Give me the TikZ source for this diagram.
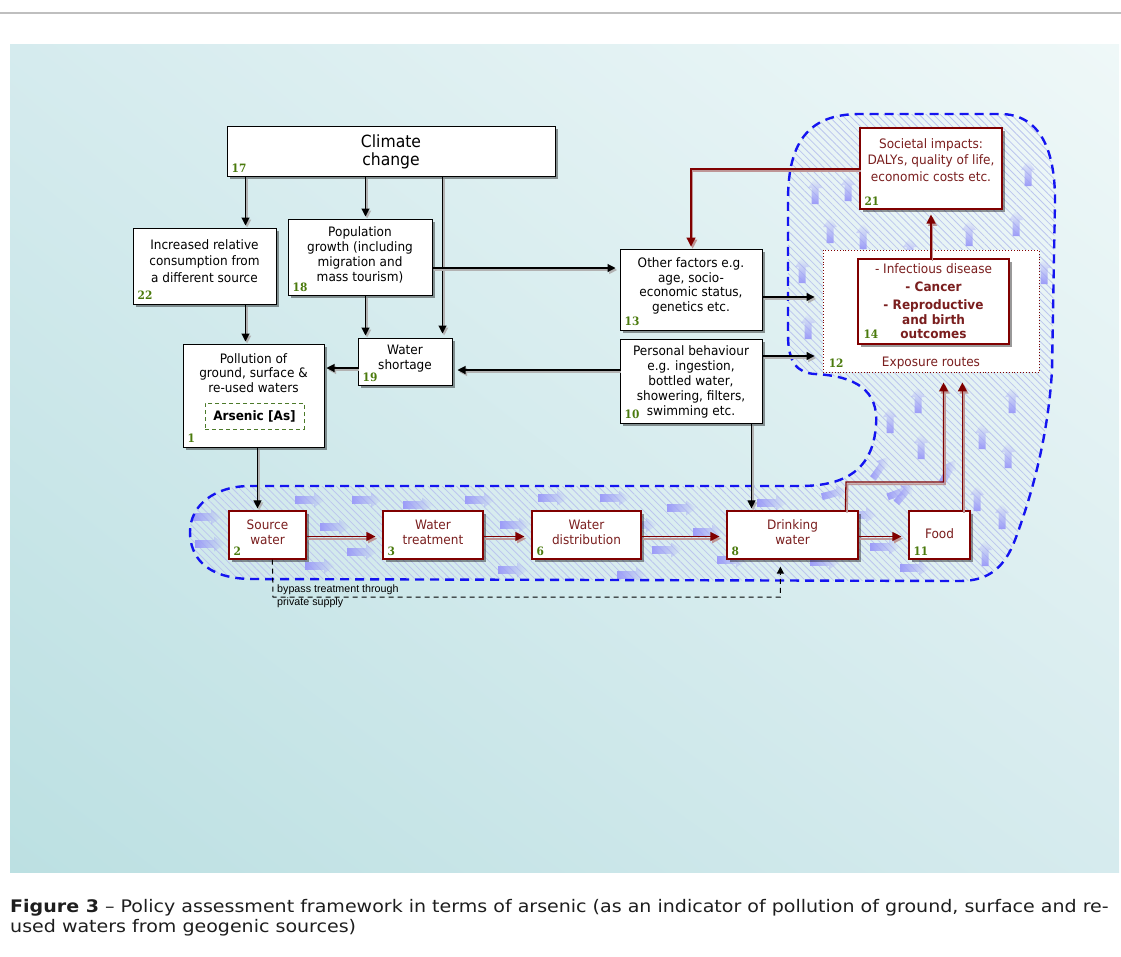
\documentclass[tikz,border=0pt]{standalone}
\usepackage{fontspec}
\setmainfont{DejaVu Sans}[FakeStretch=0.93]
\newfontfamily\numfont{DejaVu Serif}[FakeStretch=0.92]
\newfontfamily\capfont{DejaVu Sans}[FakeStretch=1.1]
\newfontfamily\smallfont{Liberation Sans}
\usetikzlibrary{arrows.meta,shadows,fadings,shadings,patterns.meta,calc}
\definecolor{darkred}{HTML}{800000}
\definecolor{redtext}{HTML}{7A1E1E}
\definecolor{redshadow}{HTML}{BE9696}
\definecolor{numgreen}{HTML}{4A7A0C}
\definecolor{asgreen}{HTML}{4C7A2A}
\definecolor{zoneblue}{HTML}{1414F0}
\definecolor{flowlav}{HTML}{9C9CF8}
\definecolor{hatchcol}{HTML}{BCC6EE}
\definecolor{bgTL}{HTML}{D5EBEE}
\definecolor{bgTR}{HTML}{EFF8F8}
\definecolor{bgBL}{HTML}{BCE0E2}
\definecolor{bgBR}{HTML}{D6EBEE}
\definecolor{captext}{HTML}{1E1E1E}

% outline of the exposure zone (pipeline band plus the upper-right lobe)
\newcommand\zonepath{(250,486) -- (800,486)
  .. controls (845,486) and (873,470) .. (876,425)
  .. controls (879,390) and (855,376) .. (815,374)
  .. controls (797,373) and (788,362) .. (788,335)
  -- (788,200) .. controls (788,140) and (810,114) .. (860,114)
  -- (1000,114) .. controls (1040,114) and (1055,150) .. (1055,200)
  -- (1052,370) .. controls (1048,440) and (1030,500) .. (1015,540)
  .. controls (1005,566) and (990,581) .. (960,581)
  -- (250,579) .. controls (205,578) and (190,556) .. (190,532)
  .. controls (190,505) and (215,486) .. (250,486) -- cycle}

% soft flow arrows inside the zone
\newcommand\flowright[2]{\fill[flowlav, path fading=east]
  (#1-30,#2-3.8) -- (#1-11,#2-3.8) -- (#1-11,#2-7.5) -- (#1,#2) -- (#1-11,#2+7.5)
  -- (#1-11,#2+3.8) -- (#1-30,#2+3.8) -- cycle;}
\newcommand\flowup[2]{\fill[flowlav, path fading=north]
  (#1-3.5,#2+26) -- (#1-3.5,#2+10) -- (#1-7,#2+10) -- (#1,#2) -- (#1+7,#2+10)
  -- (#1+3.5,#2+10) -- (#1+3.5,#2+26) -- cycle;}
\newcommand\flowdiag[3]{\begin{scope}[shift={(#1,#2)}, rotate=#3]
  \fill[flowlav, path fading=east]
  (-26,-3.5) -- (-10,-3.5) -- (-10,-7) -- (0,0) -- (-10,7) -- (-10,3.5) -- (-26,3.5) -- cycle;
  \end{scope}}

\begin{document}
\begin{tikzpicture}[x=1pt,y=-1pt,
  box/.style={draw=black, line width=1pt, fill=white, inner sep=0pt,
    drop shadow={shadow xshift=3pt, shadow yshift=-3pt, fill=black, opacity=0.4}},
  rbox/.style={box, draw=darkred, line width=1.2pt},
  txt/.style={align=center, inner sep=0pt, font=\fontsize{13}{14.8}\selectfont},
  rtxt/.style={txt, text=redtext},
  num/.style={anchor=base west, inner sep=0pt, text=numgreen,
    font=\numfont\bfseries\fontsize{11.5}{11.5}\selectfont},
  blink/.style={draw=black, line width=1.1pt, shorten >=2pt,
    -{Triangle[length=8pt,width=8pt]},
    preaction={draw=black!30, line width=1.4pt, -{Triangle[length=8pt,width=8pt]},
      transform canvas={shift={(1.6pt,-2pt)}}}},
  rlink/.style={draw=darkred, line width=1.3pt,
    -{Triangle[length=9pt,width=9pt]},
    preaction={draw=redshadow, line width=1.6pt, -{Triangle[length=9pt,width=9pt]},
      transform canvas={shift={(1.6pt,-2.2pt)}}}},
]
\useasboundingbox (0,0) rectangle (1121,956);

% page rule and background panel
\draw[black!25, line width=2pt] (0,13) -- (1121,13);
\shade[upper left=bgTL, upper right=bgTR, lower left=bgBL, lower right=bgBR]
  (10,44) rectangle (1119,872);

% exposure zone: tint, hatching, flow arrows, dashed outline
\fill[white, fill opacity=0.12] \zonepath;
\path[pattern={Lines[angle=-45,distance=5pt,line width=0.8pt]}, pattern color=hatchcol] \zonepath;
\begin{scope}
  \clip \zonepath;
  \flowright{222}{517} \flowright{225}{544}
  \flowright{325}{500} \flowright{382}{500} \flowright{433}{505}
  \flowright{495}{500} \flowright{568}{498}
  \flowright{350}{527} \flowright{377}{552} \flowright{335}{566}
  \flowright{530}{525} \flowright{528}{570}
  \flowright{630}{498} \flowright{697}{508} \flowright{657}{525}
  \flowright{682}{550} \flowright{647}{575} \flowright{723}{532}
  \flowright{787}{503} \flowright{747}{560} \flowright{877}{515}
  \flowright{900}{547} \flowright{930}{568} \flowright{840}{562}
  \flowdiag{847}{490}{15} \flowdiag{912}{488}{20}
  \flowdiag{888}{457}{55} \flowdiag{913}{483}{50} \flowdiag{955}{460}{60}
  \flowup{815}{178} \flowup{848}{175} \flowup{830}{217} \flowup{863}{223}
  \flowup{910}{237} \flowup{969}{220} \flowup{1016}{210} \flowup{1028}{160}
  \flowup{1044}{258} \flowup{802}{257} \flowup{808}{313}
  \flowup{890}{407} \flowup{918}{387} \flowup{921}{433}
  \flowup{982}{423} \flowup{1008}{442} \flowup{1012}{387}
  \flowup{977}{485} \flowup{1002}{503} \flowup{985}{540}
\end{scope}
\draw[zoneblue, line width=2.4pt, dash pattern=on 9pt off 6pt] \zonepath;

% ---- boxes ----
\node[box, minimum width=328pt, minimum height=50pt] (n17) at (391,151) {};
\node[box, minimum width=143pt, minimum height=76pt] (n22) at (204.5,266) {};
\node[box, minimum width=144pt, minimum height=76pt] (n18) at (360,257) {};
\node[box, minimum width=141pt, minimum height=103pt] (n1) at (253.5,395.5) {};
\node[draw=asgreen, line width=1pt, dash pattern=on 4pt off 3pt,
  minimum width=99pt, minimum height=26pt, inner sep=0pt] (as) at (254.5,416) {};
\node[box, minimum width=94pt, minimum height=47pt] (n19) at (405,361.5) {};
\node[box, minimum width=142pt, minimum height=81pt] (n13) at (691,289.5) {};
\node[box, minimum width=142pt, minimum height=84pt] (n10) at (691,381) {};
\node[rbox, minimum width=142pt, minimum height=81pt] (n21) at (931,168.5) {};
\node[draw=darkred, dotted, line width=0.9pt, fill=white,
  minimum width=216pt, minimum height=122pt, inner sep=0pt] (n12) at (931,311) {};
\node[rbox, minimum width=151pt, minimum height=85pt] (n14) at (933.5,301.5) {};
\node[rbox, minimum width=77pt, minimum height=48pt] (n2) at (267.5,535) {};
\node[rbox, minimum width=100pt, minimum height=48pt] (n3) at (433,535) {};
\node[rbox, minimum width=109pt, minimum height=48pt] (n6) at (586.5,535) {};
\node[rbox, minimum width=131pt, minimum height=48pt] (n8) at (792.5,535) {};
\node[rbox, minimum width=61pt, minimum height=48pt] (n11) at (939.5,535) {};

% ---- box texts ----
\node[txt, font=\fontsize{16.8}{18.5}\selectfont] (t17) at (391,152) {Climate\\change};
\node[txt, font=\fontsize{13}{16.5}\selectfont] (t22) at (204.5,261)
  {Increased relative\\consumption from\\a different source};
\node[txt] (t18) at (360,255) {Population\\growth (including\\migration and\\mass tourism)};
\node[txt] (t1) at (253.5,373) {Pollution of\\ground, surface \&\\re-used waters};
\node[txt, font=\bfseries\fontsize{13}{14}\selectfont] (tas) at (254.5,416) {Arsenic [As]};
\node[txt] (t19) at (405,359) {Water\\shortage};
\node[txt] (t13) at (691,286) {Other factors e.g.\\age, socio-\\economic status,\\genetics etc.};
\node[txt] (t10) at (691,382) {Personal behaviour\\e.g. ingestion,\\bottled water,\\showering, filters,\\swimming etc.};
\node[rtxt, font=\fontsize{13}{16.5}\selectfont] (t21) at (931,160)
  {Societal impacts:\\DALYs, quality of life,\\economic costs etc.};
\node[rtxt, font=\fontsize{13}{14.5}\selectfont] (t14) at (933.5,301.5)
  {- Infectious disease\\[3.5pt] \textbf{- Cancer}\\[3.5pt] \textbf{- Reproductive}\\ \textbf{and birth}\\ \textbf{outcomes}};
\node[rtxt] (t12) at (931,363) {Exposure routes};
\node[rtxt] (t2) at (267.5,532) {Source\\water};
\node[rtxt] (t3) at (433,532) {Water\\treatment};
\node[rtxt] (t6) at (586.5,532) {Water\\distribution};
\node[rtxt] (t8) at (792.5,532) {Drinking\\water};
\node[rtxt] (t11) at (939.5,534) {Food};

% ---- box numbers ----
\node[num] (k17) at ([xshift=5pt,yshift=4pt]n17.south west) {17};
\node[num] (k22) at ([xshift=5pt,yshift=5pt]n22.south west) {22};
\node[num] (k18) at ([xshift=5pt,yshift=4pt]n18.south west) {18};
\node[num] (k1) at ([xshift=5pt,yshift=5pt]n1.south west) {1};
\node[num] (k19) at ([xshift=5pt,yshift=4pt]n19.south west) {19};
\node[num] (k13) at ([xshift=5pt,yshift=5pt]n13.south west) {13};
\node[num] (k10) at ([xshift=5pt,yshift=5pt]n10.south west) {10};
\node[num] (k21) at ([xshift=5pt,yshift=4pt]n21.south west) {21};
\node[num] (k14) at ([xshift=6pt,yshift=6pt]n14.south west) {14};
\node[num] (k12) at ([xshift=6pt,yshift=5pt]n12.south west) {12};
\node[num] (k2) at ([xshift=5pt,yshift=4pt]n2.south west) {2};
\node[num] (k3) at ([xshift=5pt,yshift=4pt]n3.south west) {3};
\node[num] (k6) at ([xshift=5pt,yshift=4pt]n6.south west) {6};
\node[num] (k8) at ([xshift=5pt,yshift=4pt]n8.south west) {8};
\node[num] (k11) at ([xshift=5pt,yshift=4pt]n11.south west) {11};

% ---- black connectors ----
\draw[blink] ([xshift=19pt]n17.south west) -- ([xshift=113pt]n22.north west);
\draw[blink] ([xshift=139pt]n17.south west) -- ([xshift=78pt]n18.north west);
\draw[blink, shorten >=4pt] ([xshift=216pt]n17.south west) -- ([xshift=85pt]n19.north west);
\draw[blink] ([xshift=78pt]n18.south west) -- ([xshift=8pt]n19.north west);
\coordinate (a5) at ([yshift=-11pt]n18.east);
\draw[blink, shorten >=4pt] (a5) -- (a5 -| n13.west);
\draw[blink] ([xshift=113pt]n22.south west) -- ([xshift=63pt]n1.north west);
\coordinate (a7) at ([yshift=-6.5pt]n19.west);
\draw[blink] (a7) -- (a7 -| n1.east);
\coordinate (a8) at ([yshift=11pt]n10.west);
\draw[blink, shorten >=5pt] (a8) -- (a8 -| n19.east);
\coordinate (a9) at ([yshift=-7.5pt]n13.east);
\draw[blink, shorten >=8pt] (a9) -- (a9 -| n12.west);
\coordinate (a10) at ([yshift=25pt]n10.east);
\draw[blink, shorten >=8pt] (a10) -- (a10 -| n12.west);
\coordinate (a11) at ([xshift=132pt]n10.south west);
\draw[blink] (a11) -- (a11 |- n8.north);
\coordinate (a12) at ([xshift=75pt]n1.south west);
\draw[blink] (a12) -- (a12 |- n2.north);

% ---- red flow connectors ----
\draw[rlink, shorten >=7pt] ([yshift=-1.5pt]n2.east) -- ([yshift=-1.5pt]n3.west);
\draw[rlink, shorten >=7pt] ([yshift=-1.5pt]n3.east) -- ([yshift=-1.5pt]n6.west);
\draw[rlink, shorten >=7pt] ([yshift=-1.5pt]n6.east) -- ([yshift=-1.5pt]n8.west);
\draw[rlink, shorten >=7pt] ([yshift=-1.5pt]n8.east) -- ([yshift=-1.5pt]n11.west);
\coordinate (a15) at ([xshift=119pt]n8.north west);
\coordinate (b15) at (846,482);
\coordinate (c15) at ([xshift=121pt]n12.south west);
\draw[rlink, shorten >=10pt] (a15) -- (b15) -| (c15);
\coordinate (a16) at ([xshift=54pt]n11.north west);
\draw[rlink, shorten >=10pt] (a16) -- (a16 |- n12.south);
\draw[rlink, shorten >=5pt] (n14.north -| t12) -- (t12 |- n21.south);
\coordinate (a18) at ([yshift=-0.5pt]n21.west);
\draw[rlink, shorten >=2pt] (a18) -| (n13.north);

% ---- private-supply bypass ----
\coordinate (a19) at ([xshift=44pt]n2.south west);
\coordinate (b19) at (273,597);
\coordinate (c19) at ([xshift=54pt]n8.south west);
\draw[black, line width=1pt, dash pattern=on 5pt off 4pt, shorten >=7pt,
  -{Triangle[length=7pt,width=7pt]}] (a19) -- (b19) -| (c19);
\node[anchor=base west, inner sep=0pt, font=\smallfont\fontsize{10.7}{12}\selectfont]
  (by1) at (277,592) {bypass treatment through};
\node[anchor=base west, inner sep=0pt, font=\smallfont\fontsize{10.7}{12}\selectfont]
  (by2) at (277,605) {private supply};

% ---- caption ----
\node[anchor=base west, inner sep=0pt, text=captext, font=\capfont\fontsize{17.3}{20}\selectfont]
  (cap1) at (10,912) {\textbf{Figure 3} – Policy assessment framework in terms of arsenic (as an indicator of pollution of ground, surface and re-};
\node[anchor=base west, inner sep=0pt, text=captext, font=\capfont\fontsize{17.3}{20}\selectfont]
  (cap2) at (10,932) {used waters from geogenic sources)};
\end{tikzpicture}
\end{document}
